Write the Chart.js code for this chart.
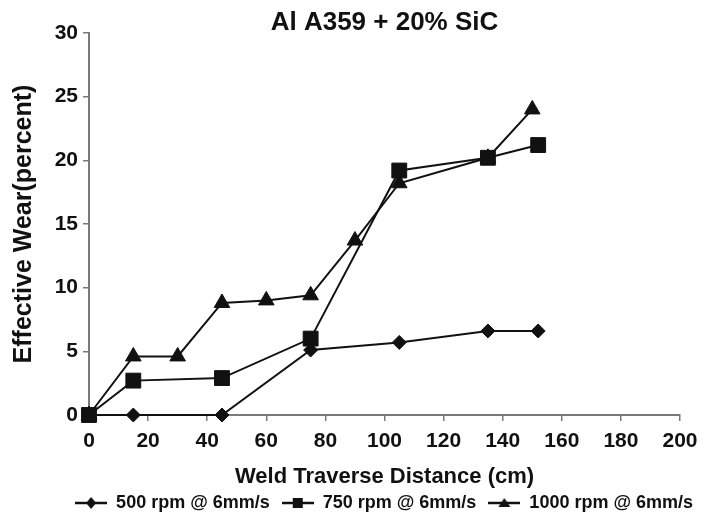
<!DOCTYPE html>
<html lang="en">
<head>
    <meta charset="UTF-8">
    <title>Al A359 + 20% SiC</title>
    <style>
        html, body { margin: 0; padding: 0; background: #fff; }
        #chart { width: 705px; height: 520px; }
    </style>
</head>
<body>
    <div id="chart">
        <canvas id="wearChart"></canvas>
    </div>
    <script src="https://cdn.jsdelivr.net/npm/chart.js"></script>
<script>
    // weld traverse distance (cm) vs effective wear (%) for each spindle speed
    const dist500 = [0, 15, 45, 75, 105, 135, 152]
    const wear500 = [0, 0, 0, 5.1, 5.7, 6.6, 6.6]
    const dist750 = [0, 15, 45, 75, 105, 135, 152]
    const wear750 = [0, 2.7, 2.9, 6.0, 19.2, 20.2, 21.2]
    const dist1000 = [0, 15, 30, 45, 60, 75, 90, 105, 135, 150]
    const wear1000 = [0, 4.6, 4.6, 8.8, 9.0, 9.4, 13.7, 18.2, 20.2, 24.0]
    const seriesNames = ["500 rpm @ 6mm/s", "750 rpm @ 6mm/s", "1000 rpm @ 6mm/s"]
    const seriesMarkers = ["rectRot", "rect", "triangle"]
    const xTicks = [0, 20, 40, 60, 80, 100, 120, 140, 160, 180, 200]
    const yTicks = [0, 5, 10, 15, 20, 25, 30]

    const FONT = "'Liberation Sans', Arial, Helvetica, sans-serif"
    const AXIS = "#7a7a7a"
    const PLOT_BOTTOM = 415
    const BOTTOM_PAD = -2

    function toPoints(xs, ys) {
        return xs.map((x, i) => ({ x: x, y: ys[i] }))
    }

    // small line + marker swatch for the legend
    function legendIcon(style) {
        let c = document.createElement("canvas")
        c.width = 32
        c.height = 14
        let g = c.getContext("2d")
        g.strokeStyle = "#111"
        g.lineWidth = 2.5
        g.beginPath()
        g.moveTo(0, 7)
        g.lineTo(32, 7)
        g.stroke()
        g.fillStyle = "#111"
        g.beginPath()
        if (style === "rectRot") {
            g.moveTo(16, 1); g.lineTo(21, 7); g.lineTo(16, 13); g.lineTo(11, 7)
        } else if (style === "rect") {
            g.rect(11, 2, 10, 10)
        } else {
            g.moveTo(16, 2); g.lineTo(22, 11); g.lineTo(10, 11)
        }
        g.closePath()
        g.fill()
        return c
    }

    function series(i, xs, ys, radius) {
        return {
            label: seriesNames[i],
            data: toPoints(xs, ys),
            borderColor: "#111",
            backgroundColor: "#111",
            borderWidth: 2,
            pointStyle: seriesMarkers[i],
            pointRadius: radius,
            pointHoverRadius: radius,
            pointBackgroundColor: "#111",
            pointBorderColor: "#111",
            pointBorderWidth: 1,
            tension: 0,
            clip: false
        }
    }

    let ctx = document.getElementById("wearChart")

    let chart = new Chart(ctx, {
        type: "line",
        data: {
            datasets: [
                series(0, dist500, wear500, 7),
                series(1, dist750, wear750, 10.5),
                series(2, dist1000, wear1000, 9)
            ]
        },
        options: {
            responsive: true,
            maintainAspectRatio: false,
            animation: false,
            layout: { padding: { left: 0, right: 0, top: 0, bottom: BOTTOM_PAD } },
            plugins: {
                title: {
                    display: true,
                    text: "Al A359 + 20% SiC",
                    fullSize: false,
                    color: "#111",
                    font: { family: FONT, size: 26, weight: "bold", lineHeight: 1.2 },
                    padding: { top: 7, bottom: -5.2 }
                },
                legend: {
                    position: "bottom",
                    align: "end",
                    labels: {
                        color: "#111",
                        font: { family: FONT, size: 18, weight: "bold" },
                        usePointStyle: true,
                        pointStyleWidth: 32,
                        padding: 12,
                        generateLabels: (c) => c.data.datasets.map((ds, i) => ({
                            text: ds.label,
                            pointStyle: legendIcon(seriesMarkers[i]),
                            fillStyle: "#111",
                            strokeStyle: "#111",
                            lineWidth: 0,
                            fontColor: "#111",
                            datasetIndex: i
                        }))
                    }
                },
                tooltip: { enabled: false }
            },
            scales: {
                x: {
                    type: "linear",
                    min: 0,
                    max: 200,
                    afterBuildTicks: (s) => { s.ticks = xTicks.map(v => ({ value: v })) },
                    afterFit: (s) => {
                        s.height = 520 - BOTTOM_PAD - PLOT_BOTTOM - s.chart.legend.height
                        s.paddingRight = 25
                    },
                    border: { display: true, color: AXIS, width: 2 },
                    grid: { drawOnChartArea: false, drawTicks: true, tickLength: 6, color: AXIS, lineWidth: 1.5 },
                    ticks: {
                        color: "#111",
                        padding: 8,
                        maxRotation: 0,
                        font: { family: FONT, size: 21, weight: "bold" }
                    },
                    title: {
                        display: true,
                        text: "Weld Traverse Distance (cm)",
                        color: "#111",
                        font: { family: FONT, size: 22, weight: "bold" },
                        padding: { top: 0, bottom: -8 }
                    }
                },
                y: {
                    min: 0,
                    max: 30,
                    afterBuildTicks: (s) => { s.ticks = yTicks.map(v => ({ value: v })) },
                    afterFit: (s) => { s.width = 89 },
                    border: { display: true, color: AXIS, width: 2 },
                    grid: { drawOnChartArea: false, drawTicks: true, tickLength: 6, color: AXIS, lineWidth: 1.5 },
                    ticks: {
                        color: "#111",
                        padding: 5,
                        font: { family: FONT, size: 21, weight: "bold" }
                    },
                    title: {
                        display: true,
                        text: "Effective Wear(percent)",
                        color: "#111",
                        font: { family: FONT, size: 25, weight: "bold" },
                        padding: { top: 9, bottom: 0 }
                    }
                }
            }
        }
    })
</script>
</body>
</html>
